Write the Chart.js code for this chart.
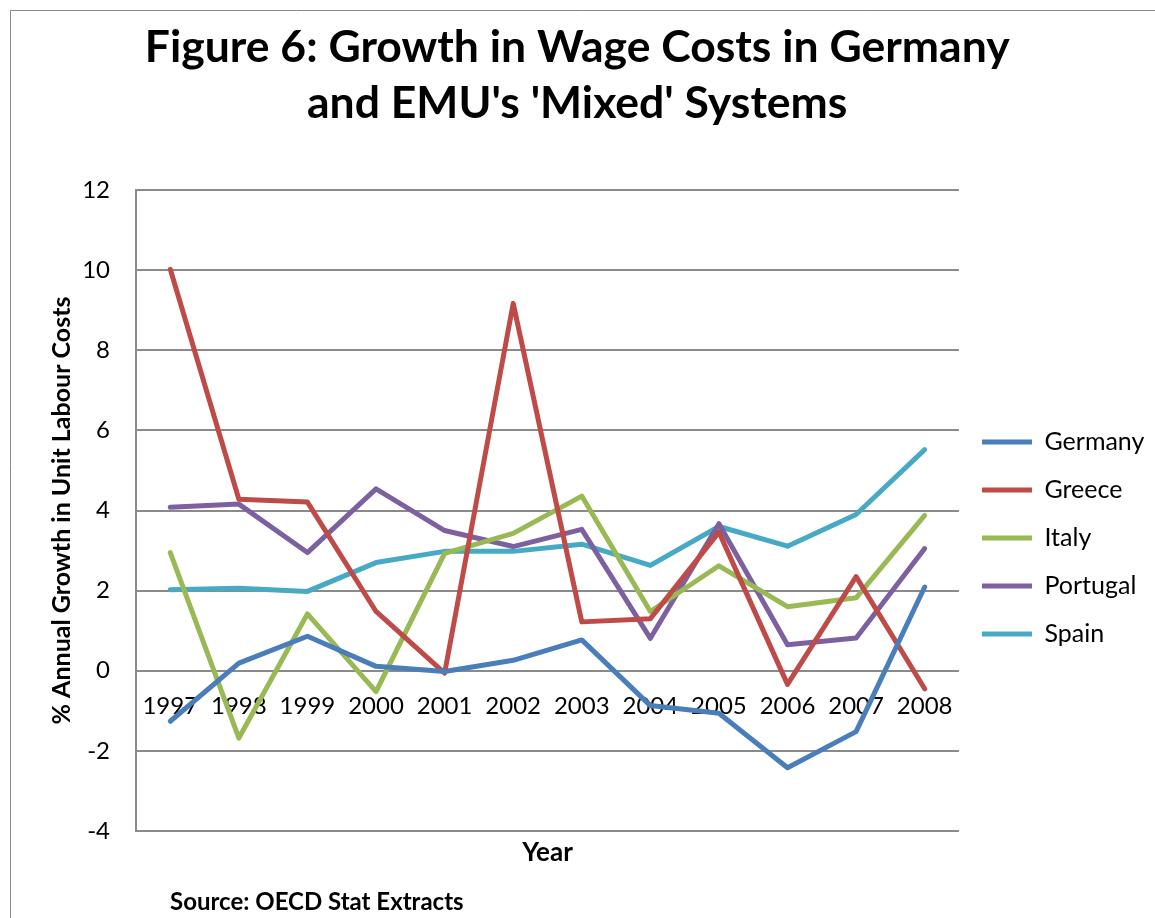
<!DOCTYPE html>
<html>
<head>
<meta charset="utf-8">
<script src="https://cdn.jsdelivr.net/npm/chart.js@4.4.1/dist/chart.umd.min.js"></script>
<style>
    html, body { margin: 0; padding: 0; background: #fff; }
    #wrap { width: 1155px; height: 918px; position: relative; }
</style>
</head>
<body>
<div id="wrap"><canvas id="wageChart"></canvas></div>
<script>
const years = ["1997", "1998", "1999", "2000", "2001", "2002",
               "2003", "2004", "2005", "2006", "2007", "2008"];

const germany  = [-1.26, 0.19, 0.86, 0.11, -0.02, 0.26, 0.77, -0.87, -1.06, -2.42, -1.52, 2.09];
const greece   = [10.02, 4.28, 4.21, 1.48, -0.06, 9.17, 1.22, 1.30, 3.46, -0.34, 2.35, -0.45];
const italy    = [2.95, -1.68, 1.42, -0.52, 2.93, 3.43, 4.36, 1.48, 2.62, 1.60, 1.82, 3.88];
const portugal = [4.08, 4.16, 2.95, 4.54, 3.50, 3.10, 3.53, 0.81, 3.67, 0.65, 0.82, 3.05];
const spain    = [2.02, 2.06, 1.98, 2.70, 2.98, 2.98, 3.16, 2.63, 3.60, 3.11, 3.90, 5.52];

const yTicks = [-4, -2, 0, 2, 4, 6, 8, 10, 12];

const FONT = "Lato, Carlito, Calibri, sans-serif";
const GRID = "#8a8a8a";

function series(label, data, color) {
    return {
        label: label,
        data: data,
        borderColor: color,
        backgroundColor: color,
        borderWidth: 5,
        borderCapStyle: "round",
        borderJoinStyle: "round",
        pointRadius: 0,
        pointHoverRadius: 0,
        tension: 0,
        fill: false
    };
}

// frame line and source note
const extras = {
    id: "extras",
    beforeDraw(chart) {
        const c = chart.ctx;
        c.save();
        c.strokeStyle = GRID;
        c.lineWidth = 1;
        c.beginPath();
        c.moveTo(10.5, chart.height);
        c.lineTo(10.5, 10.5);
        c.lineTo(chart.width, 10.5);
        c.stroke();
        c.restore();
    },
    afterDraw(chart) {
        const c = chart.ctx;
        c.save();
        c.fillStyle = "#000";
        c.font = "bold 24px " + FONT;
        c.textBaseline = "middle";
        c.fillText("Source: OECD Stat Extracts", 170, 902);
        c.restore();
    }
};

const ctx = document.getElementById("wageChart");

new Chart(ctx, {
    type: "line",
    data: {
        labels: years,
        datasets: [
            series("Germany", germany, "#4a7ebb"),
            series("Greece", greece, "#be4b48"),
            series("Italy", italy, "#98b954"),
            series("Portugal", portugal, "#7d60a0"),
            series("Spain", spain, "#46aac5")
        ]
    },
    options: {
        responsive: true,
        maintainAspectRatio: false,
        animation: false,
        layout: { padding: { top: 0, right: 0.6, bottom: 0, left: 0 } },
        plugins: {
            title: {
                display: true,
                text: ["Figure 6: Growth in Wage Costs in Germany",
                       "and EMU's 'Mixed' Systems"],
                color: "#000",
                font: { family: FONT, size: 44.5, weight: "bold", lineHeight: 1.25 },
                padding: { top: 20, bottom: 58.75 }
            },
            legend: {
                position: "right",
                title: {
                    display: true,
                    text: " ",
                    font: { size: 2, lineHeight: 1 },
                    padding: { top: 156, bottom: 0 }
                },
                labels: {
                    usePointStyle: true,
                    pointStyle: "line",
                    pointStyleWidth: 50,
                    color: "#000",
                    padding: 23,
                    font: { family: FONT, size: 25, lineHeight: 1.2 }
                }
            },
            tooltip: { enabled: false }
        },
        scales: {
            x: {
                type: "category",
                offset: true,
                position: { y: 0 },
                grid: { display: false, drawTicks: false },
                border: { display: false },
                ticks: {
                    color: "#000",
                    padding: 21,
                    maxRotation: 0,
                    autoSkip: false,
                    font: { family: FONT, size: 24 }
                }
            },
            xTitle: {
                type: "category",
                position: "bottom",
                offset: true,
                grid: { display: false, drawTicks: false },
                border: { display: false },
                ticks: { display: false },
                title: {
                    display: true,
                    text: "Year",
                    color: "#000",
                    font: { family: FONT, size: 26, weight: "bold", lineHeight: 1.2 },
                    padding: { top: 6, bottom: 49.8 }
                }
            },
            y: {
                min: -4,
                max: 12,
                afterFit(scale) { scale.width = 136; },
                afterBuildTicks(scale) {
                    scale.ticks = yTicks.map(v => ({ value: v }));
                },
                grid: { color: GRID, lineWidth: 2, drawTicks: false },
                border: { color: GRID, width: 2 },
                ticks: {
                    color: "#000",
                    padding: 26,
                    font: { family: FONT, size: 24 }
                },
                title: {
                    display: true,
                    text: "% Annual Growth in Unit Labour Costs",
                    color: "#000",
                    font: { family: FONT, size: 25, weight: "bold", lineHeight: 1.2 },
                    padding: { top: 47, bottom: 0 }
                }
            }
        }
    },
    plugins: [extras]
});
</script>
</body>
</html>
